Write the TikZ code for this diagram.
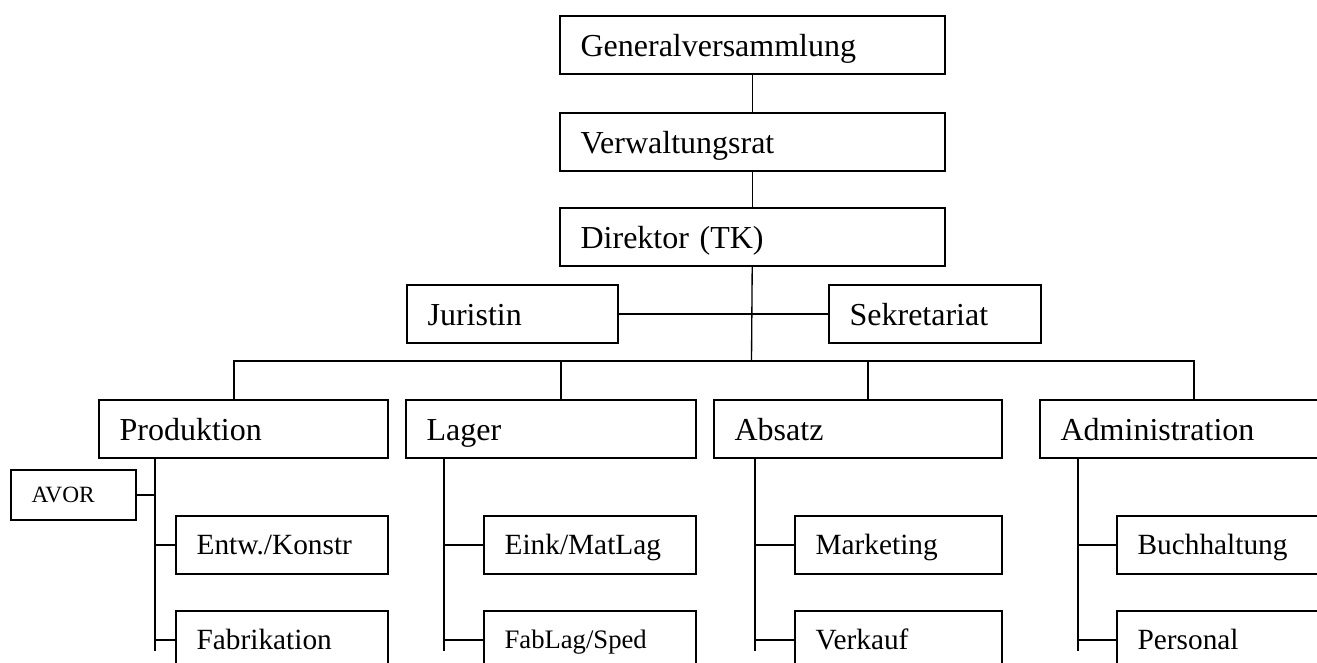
\documentclass[tikz,border=0pt]{standalone}
\usepackage{fontspec}
\setmainfont{Liberation Serif}
\usetikzlibrary{calc,positioning}
\tikzset{
	org chart/.style={
		x=0.75pt, y=-0.75pt,
		ln/.style={line width=1pt},
		thin ln/.style={line width=0.8pt}
		},
	ob/.style={draw, line width=1.4pt, anchor=north west, align=left,
		inner xsep=15.5pt, inner ysep=0pt, minimum height=43.5pt,
		text height=17pt, text depth=0pt,
		font=\fontsize{24}{28}\selectfont},
	ob width/.style={text width={#1*0.75pt-31pt}},
	ob small/.style={font=\fontsize{22}{26}\selectfont, text height=14pt},
	ob smaller/.style={font=\fontsize{20}{24}\selectfont, text height=13pt},
	ob tiny/.style={font=\fontsize{17.5}{20}\selectfont, text height=12pt,
		minimum height=37.5pt}
}

\begin{document}
\begin{tikzpicture}[org chart]
	\useasboundingbox (0,0) rectangle (1317,662);
	\clip (0,0) rectangle (1317,662);
	% top of the chart
	\node[ob, ob width=385] (gv) at (559,15) {Generalversammlung};
	\node[ob, ob width=385] (vr) at (559,112) {Verwaltungsrat};
	\node[ob, ob width=385] (dir) at (559,207) {Direktor (TK)};
	\node[ob, ob width=211] (jur) at (406,284) {Juristin};
	\node[ob, ob width=212] (sek) at (828,284) {Sekretariat};
	% departments
	\node[ob, ob width=289] (prod) at (98,399) {Produktion};
	\node[ob, ob width=290] (lager) at (405,399) {Lager};
	\node[ob, ob width=288] (absatz) at (713,399) {Absatz};
	\node[ob, ob width=290] (admin) at (1039,399) {Administration};
	% sections
	\node[ob, ob tiny, ob width=125] (avor) at (10,469) {AVOR};
	\node[ob, ob small, ob width=212] (entw) at (175,515) {Entw./Konstr};
	\node[ob, ob small, ob width=212] (fabr) at (175,610) {Fabrikation};
	\node[ob, ob small, ob width=212] (eink) at (483,515) {Eink/MatLag};
	\node[ob, ob smaller, ob width=212] (fabl) at (483,610) {FabLag/Sped};
	\node[ob, ob small, ob width=207] (mark) at (794,515) {Marketing};
	\node[ob, ob small, ob width=207] (verk) at (794,610) {Verkauf};
	\node[ob, ob small, ob width=212] (buch) at (1116,515) {Buchhaltung};
	\node[ob, ob small, ob width=212] (pers) at (1116,610) {Personal};

	\draw[thin ln] (gv) -- (vr);
	\draw[thin ln] (vr) -- (dir);
	\draw[ln] (jur) -- (sek);
	\coordinate (bus) at (751.5,361);
	\draw[ln] (dir) -- (bus);
	\foreach \n/\dx in {prod/-9.5, lager/10, absatz/10, admin/9}
		\draw[ln] ([xshift=\dx*0.75pt]\n.north) |- (bus);
	\foreach \n/\dx/\a/\b in {prod/57/entw/fabr, lager/39/eink/fabl, absatz/42/mark/verk, admin/39/buch/pers} {
		\draw[ln] (\n.south west) ++(\dx,0) coordinate (\n-s) -- ++(0,192);
		\draw[ln] (\a.west) -- (\a.west -| \n-s);
		\draw[ln] (\b.west) -- (\b.west -| \n-s);
	}
	\draw[ln] (avor.east) -- (avor.east -| prod-s);
\end{tikzpicture}
\end{document}
